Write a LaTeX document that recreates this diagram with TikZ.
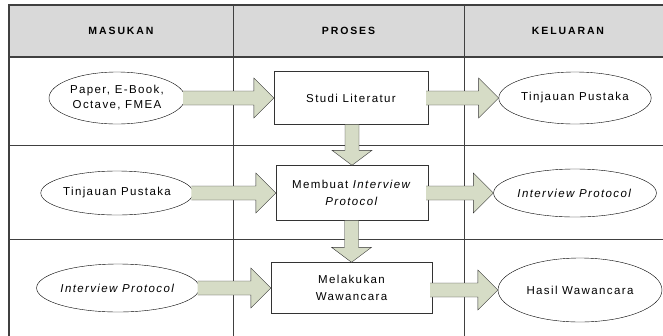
\documentclass[tikz,border=0pt]{standalone}
\usepackage{fontspec}
\setmainfont{Liberation Sans}
\newfontfamily\bodyfont[LetterSpace=12]{Liberation Sans}
\newfontfamily\headfont[LetterSpace=18]{Liberation Sans}
\usetikzlibrary{shapes.geometric, calc}

\definecolor{headgray}{RGB}{217,217,217}
\definecolor{arrowfill}{RGB}{214,220,198}

% panah blok horizontal dan vertikal antar node
\newcommand{\fatright}[2]{%
  \draw[fatarrow] let \p1=(#1.east), \p2=(#2.west) in
    (\x1-2bp,\y2+7bp) -- (\x2-20bp,\y2+7bp) -- (\x2-20bp,\y2+20bp) -- (\x2,\y2)
    -- (\x2-20bp,\y2-20bp) -- (\x2-20bp,\y2-7bp) -- (\x1-2bp,\y2-7bp);}
\newcommand{\fatdown}[2]{%
  \draw[fatarrow] let \p1=(#1.south), \p2=(#2.north) in
    (\x2-7bp,\y1) -- (\x2-7bp,\y2+15bp) -- (\x2-20bp,\y2+15bp) -- (\x2,\y2)
    -- (\x2+20bp,\y2+15bp) -- (\x2+7bp,\y2+15bp) -- (\x2+7bp,\y1);}

\begin{document}
\begin{tikzpicture}[
  x=1bp, y=-1bp,
  header/.style={font=\headfont\bfseries\fontsize{10.5bp}{12bp}\selectfont},
  proc/.style={
    draw=black!80,
    fill=white,
    align=center,
    inner sep=0pt,
    font=\bodyfont\fontsize{11.5bp}{17bp}\selectfont
  },
  inout/.style={
    ellipse,
    draw=black,
    fill=white,
    align=center,
    inner sep=0pt,
    font=\bodyfont\fontsize{11.5bp}{15bp}\selectfont
  },
  fatarrow/.style={draw=black!80, fill=arrowfill, line join=miter},
  grid/.style={draw=black!75, line width=0.8bp},
  border/.style={draw=black!75, line width=1.5bp}
]
\useasboundingbox (0,0) rectangle (663,335);

% Tabel
\fill[headgray] (9,5) rectangle (672,57);
\draw[grid] (233,5) -- (233,345);
\draw[grid] (464,5) -- (464,345);
\draw[grid] (9,145) -- (672,145);
\draw[grid] (9,239) -- (672,239);
\draw[border] (9,57) -- (672,57);
\draw[border] (9,345) -- (9,5) -- (672,5) -- (672,345);

% Judul kolom
\node[header] (hmasuk) at (121,31) {MASUKAN};
\node[header] (hproses) at (348.5,31) {PROSES};
\node[header] (hkeluar) at (568,31) {KELUARAN};

% Baris 1
\node[proc, minimum width=154bp, minimum height=53bp] (studi) at (351,98)
  {Studi Literatur};
\node[inout, minimum width=136bp, minimum height=52bp] (paper) at (117,98)
  {Paper, E-Book,\\Octave, FMEA};
\node[inout, minimum width=148bp, minimum height=52bp] (tinjau1) at (575,98)
  {Tinjauan Pustaka};

% Baris 2
\node[proc, minimum width=152bp, minimum height=55bp] (membuat) at (352,193)
  {Membuat \textit{Interview}\\\textit{Protocol}};
\node[inout, minimum width=136bp, minimum height=44bp] (tinjau2) at (117,193)
  {Tinjauan Pustaka};
\node[inout, minimum width=140bp, minimum height=48bp] (proto1) at (575,193)
  {\textit{Interview Protocol}};

% Baris 3
\node[proc, minimum width=161bp, minimum height=51bp] (wawan) at (351.5,288)
  {Melakukan\\Wawancara};
\node[inout, minimum width=138bp, minimum height=48bp] (proto2) at (118,288)
  {\textit{Interview Protocol}};
\node[inout, minimum width=164bp, minimum height=64bp] (hasil) at (580,290)
  {Hasil Wawancara};

% Panah masukan -> proses -> keluaran
\fatright{paper}{studi}
\fatright{studi}{tinjau1}
\fatright{tinjau2}{membuat}
\fatright{membuat}{proto1}
\fatright{proto2}{wawan}
\fatright{wawan}{hasil}

% Panah antar proses
\fatdown{studi}{membuat}
\fatdown{membuat}{wawan}

\end{tikzpicture}
\end{document}
